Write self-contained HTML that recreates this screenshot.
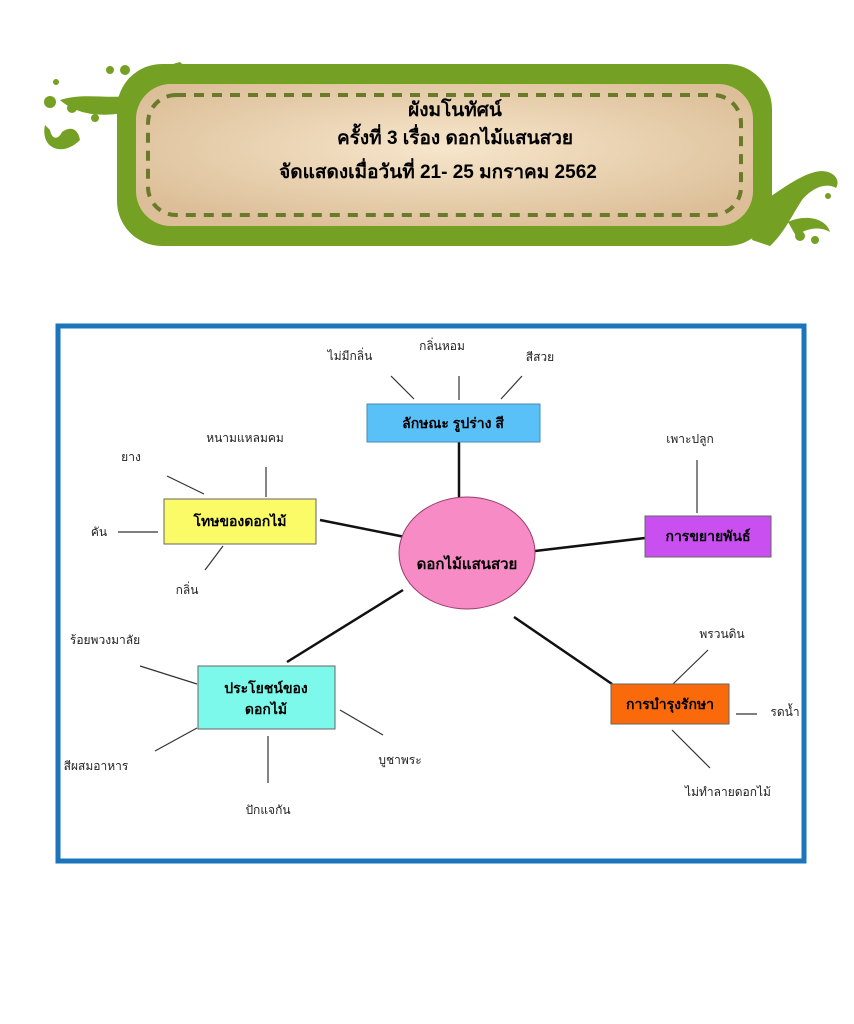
<!DOCTYPE html>
<html><head><meta charset="utf-8"><style>
html,body{margin:0;padding:0;background:#fff;}
svg{display:block;}
text{font-family:"Liberation Sans","DejaVu Sans","Noto Sans CJK SC",sans-serif;fill:#222;}
.h{font-weight:bold;font-size:19px;fill:#000;}
.b{font-weight:bold;font-size:14px;fill:#000;}
.s{font-size:12px;fill:#222;}
</style></head><body>
<svg width="854" height="1024" viewBox="0 0 854 1024" xmlns="http://www.w3.org/2000/svg">
<defs>
<radialGradient id="bg" cx="50%" cy="45%" r="60%">
<stop offset="0" stop-color="#f7e6cc"/><stop offset="1" stop-color="#dcbf98"/>
</radialGradient>
</defs>
<rect width="854" height="1024" fill="#fff"/>
<g fill="#74a023">
<path d="M60,100 C85,92 110,100 130,95 C145,85 155,68 180,62 L200,80 C178,88 165,100 155,115 C145,135 140,150 128,152 C132,132 138,118 128,112 C110,116 80,118 60,100Z"/>
<path d="M45,125 C40,148 62,158 80,140 C78,128 70,126 62,132 C58,140 52,140 50,130Z"/>
<circle cx="50" cy="102" r="6"/><circle cx="72" cy="108" r="5"/><circle cx="110" cy="70" r="4"/><circle cx="125" cy="70" r="5"/><circle cx="56" cy="82" r="3"/><circle cx="95" cy="118" r="4"/>
<path d="M758,205 C778,192 798,176 815,172 C830,168 842,178 836,188 C826,182 812,188 802,200 C792,215 785,232 770,246 L752,240Z"/>
<path d="M788,222 C805,214 826,218 830,232 C820,226 806,228 796,236Z"/>
<circle cx="800" cy="236" r="5"/><circle cx="815" cy="240" r="4"/><circle cx="828" cy="196" r="3"/>
</g>
<rect x="117" y="64" width="655" height="182" rx="45" fill="#74a023"/>
<rect x="136" y="84" width="617" height="142" rx="35" fill="url(#bg)"/>
<rect x="148" y="95" width="593" height="120" rx="28" fill="none" stroke="#6b7a2a" stroke-width="4" stroke-dasharray="10,8"/>
<text class="h" x="455" y="116" text-anchor="middle">ผังมโนทัศน์</text>
<text class="h" x="455" y="144" text-anchor="middle">ครั้งที่ 3 เรื่อง ดอกไม้แสนสวย</text>
<text class="h" x="438" y="178" text-anchor="middle">จัดแสดงเมื่อวันที่  21- 25 มกราคม 2562</text>
<rect x="58" y="326" width="746" height="535" fill="#fff" stroke="#1a75bd" stroke-width="5"/>
<g stroke="#111" stroke-width="2.5">
<line x1="459" y1="442" x2="459" y2="499"/>
<line x1="320" y1="520" x2="405" y2="537"/>
<line x1="535" y1="551" x2="645" y2="538"/>
<line x1="287" y1="662" x2="403" y2="590"/>
<line x1="514" y1="617" x2="612" y2="684"/>
</g>
<g stroke="#333" stroke-width="1.2">
<line x1="391" y1="376" x2="414" y2="399"/><line x1="459" y1="376" x2="459" y2="400"/><line x1="522" y1="376" x2="501" y2="399"/>
<line x1="167" y1="476" x2="204" y2="494"/><line x1="266" y1="467" x2="266" y2="497"/><line x1="118" y1="532" x2="158" y2="532"/><line x1="223" y1="546" x2="205" y2="570"/>
<line x1="697" y1="460" x2="697" y2="513"/>
<line x1="140" y1="666" x2="197" y2="684"/><line x1="155" y1="751" x2="197" y2="728"/><line x1="268" y1="736" x2="268" y2="783"/><line x1="340" y1="710" x2="383" y2="735"/>
<line x1="673" y1="684" x2="708" y2="650"/><line x1="736" y1="714" x2="757" y2="714"/><line x1="672" y1="730" x2="710" y2="768"/>
</g>
<ellipse cx="467" cy="553" rx="68" ry="56" fill="#f78bc5" stroke="#9a3d6a" stroke-width="1"/>
<text class="b" x="467" y="569" text-anchor="middle" style="font-size:15px">ดอกไม้แสนสวย</text>
<rect x="367" y="404" width="173" height="38" fill="#5ac0f8" stroke="#4a8ab5"/>
<text class="b" x="453" y="428" text-anchor="middle">ลักษณะ รูปร่าง สี</text>
<rect x="164" y="499" width="152" height="45" fill="#fbfb68" stroke="#666"/>
<text class="b" x="240" y="526" text-anchor="middle">โทษของดอกไม้</text>
<rect x="645" y="516" width="126" height="41" fill="#c94ff0" stroke="#666"/>
<text class="b" x="708" y="541" text-anchor="middle">การขยายพันธ์</text>
<rect x="198" y="666" width="137" height="63" fill="#7cf9ea" stroke="#666"/>
<text class="b" x="266" y="693" text-anchor="middle">ประโยชน์ของ</text>
<text class="b" x="266" y="714" text-anchor="middle">ดอกไม้</text>
<rect x="611" y="684" width="118" height="40" fill="#fb6a0a" stroke="#666"/>
<text class="b" x="670" y="709" text-anchor="middle">การบำรุงรักษา</text>
<text class="s" x="350" y="360" text-anchor="middle">ไม่มีกลิ่น</text>
<text class="s" x="442" y="350" text-anchor="middle">กลิ่นหอม</text>
<text class="s" x="540" y="361" text-anchor="middle">สีสวย</text>
<text class="s" x="245" y="442" text-anchor="middle">หนามแหลมคม</text>
<text class="s" x="131" y="461" text-anchor="middle">ยาง</text>
<text class="s" x="99" y="536" text-anchor="middle">คัน</text>
<text class="s" x="187" y="594" text-anchor="middle">กลิ่น</text>
<text class="s" x="690" y="443" text-anchor="middle">เพาะปลูก</text>
<text class="s" x="105" y="644" text-anchor="middle">ร้อยพวงมาลัย</text>
<text class="s" x="96" y="770" text-anchor="middle">สีผสมอาหาร</text>
<text class="s" x="268" y="814" text-anchor="middle">ปักแจกัน</text>
<text class="s" x="400" y="764" text-anchor="middle">บูชาพระ</text>
<text class="s" x="722" y="638" text-anchor="middle">พรวนดิน</text>
<text class="s" x="785" y="716" text-anchor="middle">รดน้ำ</text>
<text class="s" x="728" y="796" text-anchor="middle">ไม่ทำลายดอกไม้</text>
</svg>
</body></html>
